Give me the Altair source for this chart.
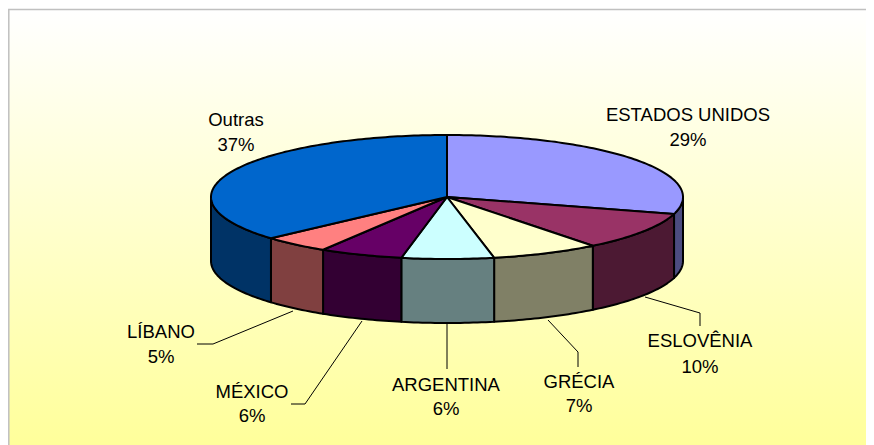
import math
import altair as alt
import pandas as pd

names = ["ESTADOS UNIDOS", "ESLOVÊNIA", "GRÉCIA", "ARGENTINA", "MÉXICO", "LÍBANO", "Outras"]
values = [29.4, 10.0, 7.4, 6.3, 5.7, 4.6, 36.6]
percent_labels = ["29%", "10%", "7%", "6%", "6%", "5%", "37%"]
top_colors = ["#9999FF", "#993366", "#FFFFCC", "#CCFFFF", "#660066", "#FF8080", "#0066CC"]
wall_colors = ["#4C4C80", "#4C1933", "#808066", "#668080", "#330033", "#804040", "#003366"]
label_x = [688, 700, 579, 446, 252, 161, 236]
name_y = [114, 340, 381, 384, 391, 331, 119]
pct_y = [139, 366, 405, 408, 415, 356, 144]
leaders = {
    "ESLOVÊNIA": [(645, 297), (700, 313), (700, 326)],
    "GRÉCIA": [(548, 320), (578, 352), (578, 367)],
    "ARGENTINA": [(447, 322), (447, 369)],
    "MÉXICO": [(362, 321), (305, 404), (291, 404)],
    "LÍBANO": [(293, 311), (213, 344), (197, 344)],
}

CX, CY, RX, RY, DEPTH = 447, 197, 236, 62, 64
X0, Y0, X1, Y1 = 8, 8, 866, 445


def pt(deg, dy=0):
    a = math.radians(deg)
    return CX + RX * math.sin(a), CY - RY * math.cos(a) + dy


tops, walls = [], []
start = 0.0
for name, v in zip(names, values):
    end = start + v * 3.6
    n = max(int(end - start), 2)
    arc = [start + (end - start) * i / n for i in range(n + 1)]
    poly = [(CX, CY)] + [pt(d) for d in arc] + [(CX, CY)]
    for i, (x, y) in enumerate(poly):
        tops.append({"slice": name, "i": i, "x": x, "y": y})
    lo, hi = max(start, 90), min(end, 270)
    if hi > lo:
        m = max(int(hi - lo), 2)
        wa = [lo + (hi - lo) * i / m for i in range(m + 1)]
        wp = [pt(d) for d in wa] + [pt(d, DEPTH) for d in reversed(wa)] + [pt(wa[0])]
        for i, (x, y) in enumerate(wp):
            walls.append({"slice": name, "i": i, "x": x, "y": y})
    start = end

xs = alt.Scale(domain=[X0, X1], nice=False, zero=False)
ys = alt.Scale(domain=[Y1, Y0], nice=False, zero=False)
X = alt.X("x:Q", scale=xs, axis=None)
Y = alt.Y("y:Q", scale=ys, axis=None)

bg = alt.Chart(pd.DataFrame({"x": [8.8], "x2": [X1 + 6], "y": [9.5], "y2": [Y1 + 6]})).mark_rect(
    fill=alt.LinearGradient(
        gradient="linear", x1=0, x2=0, y1=0, y2=1,
        stops=[alt.GradientStop(color="#FFFFFF", offset=0), alt.GradientStop(color="#FFFF99", offset=1)],
    ),
    stroke="#C0C0C0", strokeWidth=1.5,
).encode(x=X, x2="x2:Q", y=Y, y2="y2:Q")


def polys(rows, colors):
    return alt.Chart(pd.DataFrame(rows)).mark_line(
        stroke="#000000", strokeWidth=2, strokeJoin="round", clip=False
    ).encode(
        x=X, y=Y, order="i:Q",
        detail="slice:N",
        fill=alt.Fill("slice:N", scale=alt.Scale(domain=names, range=colors), legend=None),
    )


leader_rows = [
    {"k": k, "i": i, "x": x, "y": y}
    for k, pts in leaders.items()
    for i, (x, y) in enumerate(pts)
]
lead = alt.Chart(pd.DataFrame(leader_rows)).mark_line(color="#000000", strokeWidth=1).encode(
    x=X, y=Y, order="i:Q", detail="k:N"
)

text_rows = [
    {"x": x, "y": y, "t": t}
    for x, a, b, n, p in zip(label_x, name_y, pct_y, names, percent_labels)
    for y, t in ((a, n), (b, p))
]
text = alt.Chart(pd.DataFrame(text_rows)).mark_text(
    font="Liberation Sans", fontSize=18.5, color="#000000", align="center", baseline="middle", dy=0.5
).encode(x=X, y=Y, text="t:N")

chart = alt.layer(bg, lead, polys(walls, wall_colors), polys(tops, top_colors), text).resolve_scale(
    fill="independent"
).properties(
    width=X1 - X0, height=Y1 - Y0, padding=0,
    autosize=alt.AutoSizeParams(type="none"), background="#FFFFFF",
).configure_view(stroke=None)

chart.save("out.html", embed_options={"renderer": "svg", "actions": False})
